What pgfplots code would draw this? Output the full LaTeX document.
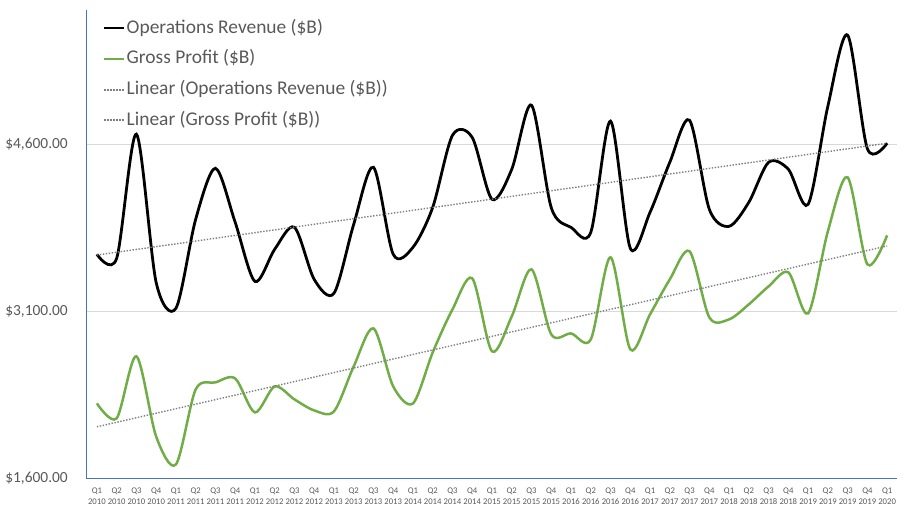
\documentclass[border=0pt]{standalone}
\usepackage{pgfplots}
\usepackage{pgfplotstable}
\pgfplotsset{compat=1.18}
\usepackage{fontspec}
\setmainfont{Carlito}
\definecolor{txt}{HTML}{595959}
\definecolor{axblue}{HTML}{4472C4}
\definecolor{gridc}{HTML}{D9D9D9}
\definecolor{gpgreen}{HTML}{70AD47}
\definecolor{trendc}{HTML}{7F7F7F}
\pgfplotstableread{
x rev gp
0 3612 2274
1 3575 2140
2 4690 2696
3 3360 1977
4 3127 1726
5 3926 2399
6 4384 2462
7 3899 2498
8 3369 2193
9 3657 2426
10 3854 2310
11 3387 2211
12 3262 2202
13 3881 2606
14 4393 2947
15 3612 2426
16 3675 2274
17 4034 2732
18 4680 3118
19 4660 3396
20 4106 2741
21 4375 3055
22 4950 3477
23 4030 2893
24 3854 2902
25 3809 2848
26 4807 3585
27 3666 2759
28 3989 3073
29 4438 3387
30 4815 3639
31 4016 3046
32 3863 3028
33 4079 3163
34 4438 3324
35 4375 3450
36 4061 3082
37 4941 3818
38 5579 4303
39 4560 3522
40 4609 3782
}\data
\begin{document}
\begin{tikzpicture}
\path[use as bounding box] (-87bp,-42.5bp) rectangle (817bp,478.5bp);
\begin{axis}[
  scale only axis,
  width=810bp, height=468bp,
  anchor=south west, at={(0,0)},
  xmin=-0.5, xmax=40.5,
  ymin=1600, ymax=5800,
  separate axis lines,
  axis x line*=bottom, axis y line*=left,
  axis line style={draw=axblue, line width=1bp, -},
  every outer x axis line/.append style={draw=axblue, line width=1bp, -},
  every outer y axis line/.append style={draw=axblue, line width=1bp, -},
  ytick={3100,4600},
  yticklabels={\$3{,}100.00,\$4{,}600.00},
  extra y ticks={1600},
  extra y tick labels={\$1{,}600.00},
  extra y tick style={grid=none},
  ymajorgrids, grid style={gridc, line width=0.9bp},
  major tick length=0pt,
  xtick={0,...,40},
  xticklabels={{Q1\\2010},{Q2\\2010},{Q3\\2010},{Q4\\2010},
    {Q1\\2011},{Q2\\2011},{Q3\\2011},{Q4\\2011},
    {Q1\\2012},{Q2\\2012},{Q3\\2012},{Q4\\2012},
    {Q1\\2013},{Q2\\2013},{Q3\\2013},{Q4\\2013},
    {Q1\\2014},{Q2\\2014},{Q3\\2014},{Q4\\2014},
    {Q1\\2015},{Q2\\2015},{Q3\\2015},{Q4\\2015},
    {Q1\\2016},{Q2\\2016},{Q3\\2016},{Q4\\2016},
    {Q1\\2017},{Q2\\2017},{Q3\\2017},{Q4\\2017},
    {Q1\\2018},{Q2\\2018},{Q3\\2018},{Q4\\2018},
    {Q1\\2019},{Q2\\2019},{Q3\\2019},{Q4\\2019},
    {Q1\\2020}},
  xticklabel style={font=\fontsize{8.7}{11}\selectfont, text=txt, align=center, inner sep=0pt, yshift=-9bp},
  yticklabel style={font=\fontsize{15.5}{18}\selectfont, text=txt, inner sep=0pt, xshift=-19bp},
  legend image code/.code={\draw[#1, line width=2bp] (0bp,0bp) -- (20bp,0bp);},
  legend style={anchor=north west, draw=none, fill=none,
    at={(axis description cs:0.0198,0.985)},
    inner sep=0pt, row sep=9.7bp,
    font=\fontsize{19.5}{21}\selectfont, text=txt,
    nodes={inner sep=1.5bp, text height=14bp, text depth=4bp},
    cells={anchor=west}},
  clip=false,
]
\addplot[black, line width=2.8bp, smooth, tension=0.5] table[x=x, y=rev] {\data};
\addlegendentry{Operations Revenue (\$B)}
\addplot[color=gpgreen, line width=2.5bp, smooth, tension=0.5] table[x=x, y=gp] {\data};
\addlegendentry{Gross Profit (\$B)}
\addplot[trendc, line width=1.4bp, dash pattern=on 1.4bp off 1.6bp] table[x=x, y={create col/linear regression={y=rev}}] {\data};
\addlegendentry{Linear (Operations Revenue (\$B))}
\addplot[trendc, line width=1.4bp, dash pattern=on 1.4bp off 1.6bp] table[x=x, y={create col/linear regression={y=gp}}] {\data};
\addlegendentry{Linear (Gross Profit (\$B))}
\end{axis}
\end{tikzpicture}
\end{document}
